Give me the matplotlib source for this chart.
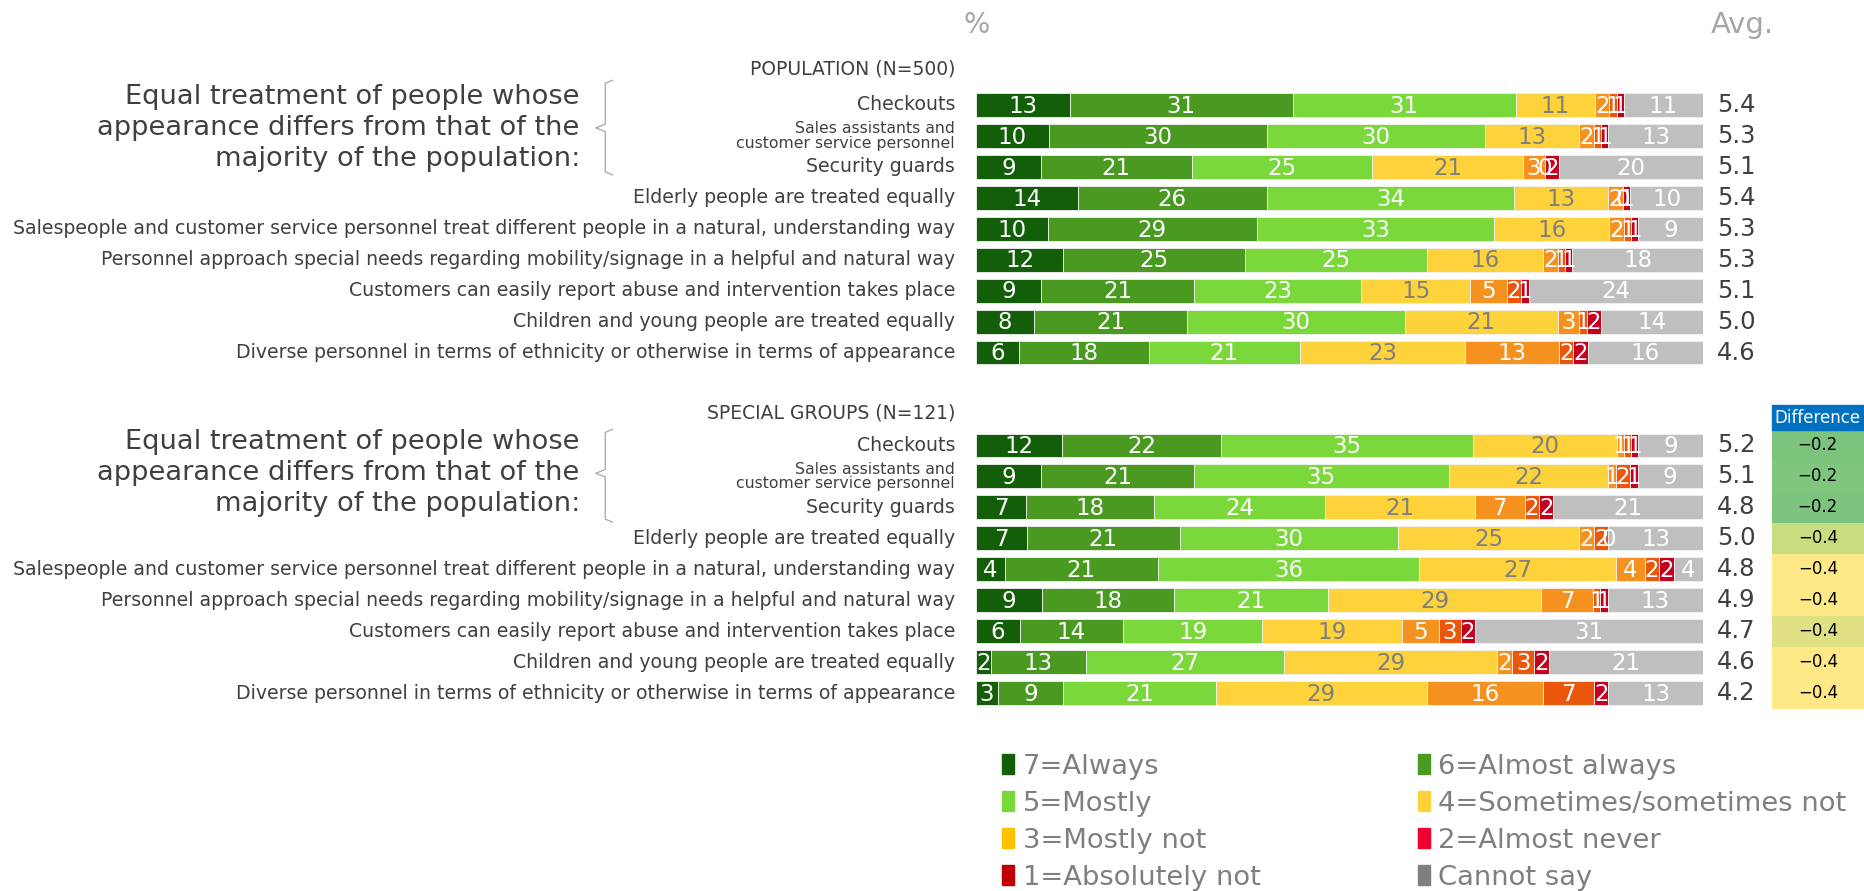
import matplotlib.pyplot as plt
import matplotlib.patches as patches
import numpy as np

# answer scale, order of the stacked segments
categories = ['7=Always', '6=Almost always', '5=Mostly', '4=Sometimes/sometimes not',
              '3=Mostly not', '2=Almost never', '1=Absolutely not', 'Cannot say']
bar_colors = ['#135e08', '#4a9a22', '#7ad83a', '#fed23a', '#f5911f', '#ea560c', '#c4001e', '#bfbfbf']
legend_colors = ['#135e08', '#4a9a22', '#7ad83a', '#fed23a', '#ffc000', '#ee0033', '#c00000', '#7f7f7f']
value_colors = ['white', 'white', 'white', '#7f7f7f', 'white', 'white', 'white', 'white']

statements = ['Checkouts',
              'Sales assistants and\ncustomer service personnel',
              'Security guards',
              'Elderly people are treated equally',
              'Salespeople and customer service personnel treat different people in a natural, understanding way',
              'Personnel approach special needs regarding mobility/signage in a helpful and natural way',
              'Customers can easily report abuse and intervention takes place',
              'Children and young people are treated equally',
              'Diverse personnel in terms of ethnicity or otherwise in terms of appearance']

population = [[13, 31, 31, 11, 2, 1, 1, 11],
              [10, 30, 30, 13, 2, 1, 1, 13],
              [9, 21, 25, 21, 3, 0, 2, 20],
              [14, 26, 34, 13, 2, 0, 1, 10],
              [10, 29, 33, 16, 2, 1, 1, 9],
              [12, 25, 25, 16, 2, 1, 1, 18],
              [9, 21, 23, 15, 5, 2, 1, 24],
              [8, 21, 30, 21, 3, 1, 2, 14],
              [6, 18, 21, 23, 13, 2, 2, 16]]
population_avg = [5.4, 5.3, 5.1, 5.4, 5.3, 5.3, 5.1, 5.0, 4.6]

special = [[12, 22, 35, 20, 1, 1, 1, 9],
           [9, 21, 35, 22, 1, 2, 1, 9],
           [7, 18, 24, 21, 7, 2, 2, 21],
           [7, 21, 30, 25, 2, 2, 0, 13],
           [4, 21, 36, 27, 4, 2, 2, 4],
           [9, 18, 21, 29, 7, 1, 1, 13],
           [6, 14, 19, 19, 5, 3, 2, 31],
           [2, 13, 27, 29, 2, 3, 2, 21],
           [3, 9, 21, 29, 16, 7, 2, 13]]
special_avg = [5.2, 5.1, 4.8, 5.0, 4.8, 4.9, 4.7, 4.6, 4.2]
difference = [-0.2, -0.2, -0.2, -0.4, -0.4, -0.4, -0.4, -0.4, -0.4]
difference_colors = ['#7bc47e', '#80c67e', '#7dc57e', '#c8dc80', '#ffe886',
                     '#ffe886', '#e0e184', '#ffe886', '#ffe886']

group_title = 'Equal treatment of people whose\nappearance differs from that of the\nmajority of the population:'

plt.rcParams['font.family'] = 'DejaVu Sans'
fig = plt.figure(figsize=(18.64, 8.91), dpi=100)
ax = fig.add_axes([976 / 1864, 1 - 708.5 / 891, 727 / 1864, 619 / 891])
ax.set_xlim(0, 100)
ax.set_ylim(19.5, -0.5)
ax.axis('off')

text_grey = '#404040'


def draw_group(rows, offset):
    for i, vals in enumerate(rows):
        vals = np.array(vals, dtype=float)
        widths = vals / vals.sum() * 100
        lefts = np.concatenate([[0], np.cumsum(widths)[:-1]])
        y = i + offset
        ax.barh([y] * len(vals), widths, left=lefts, color=bar_colors, height=0.77,
                edgecolor='#f2f2f2', linewidth=0.6)
        for v, w, l, c in zip(vals, widths, lefts, value_colors):
            ax.text(l + w / 2, y + 0.04, '%d' % v, ha='center', va='center',
                    color=c, fontsize=16.5)
        label = statements[i]
        ax.text(-2.9, y, label, ha='right', va='center', color=text_grey,
                fontsize=11.3 if '\n' in label else 13.6, linespacing=0.95, clip_on=False)


draw_group(population, 0)
draw_group(special, 11)

# averages
for i, a in enumerate(population_avg):
    ax.text(107.2, i, '%.1f' % a, ha='right', va='center', fontsize=17.5, color=text_grey, clip_on=False)
for i, a in enumerate(special_avg):
    ax.text(107.2, i + 11, '%.1f' % a, ha='right', va='center', fontsize=17.5, color=text_grey, clip_on=False)

# difference column
diff_rows = np.arange(len(difference)) + 11
ax.barh(diff_rows, 12.8, left=109.5, height=1.0, color=difference_colors, clip_on=False)
ax.add_patch(patches.Rectangle((109.5, 9.68), 12.8, 0.83, color='#0070c0', clip_on=False))
ax.text(115.8, 10.1, 'Difference', ha='center', va='center', color='white', fontsize=12, clip_on=False)
for y, d in zip(diff_rows, difference):
    ax.text(115.8, y, '\u2212%.1f' % abs(d), ha='center', va='center', color='black', fontsize=12, clip_on=False)

# headers
ax.text(0.1, -2.6, '%', ha='center', va='center', fontsize=20, color='#a6a6a6', clip_on=False)
ax.text(109.8, -2.6, 'Avg.', ha='right', va='center', fontsize=21, color='#a6a6a6', clip_on=False)
ax.text(-2.9, -1.16, 'POPULATION (N=500)', ha='right', va='center', fontsize=13.5, color=text_grey, clip_on=False)
ax.text(-2.9, 9.94, 'SPECIAL GROUPS (N=121)', ha='right', va='center', fontsize=13.5, color=text_grey, clip_on=False)

# group titles with braces
for mid, top, bot in [(0.74, -0.8, 2.26), (11.9, 10.48, 13.48)]:
    ax.text(-54.5, mid, group_title, ha='right', va='center', fontsize=19.6, color=text_grey,
            linespacing=1.25, clip_on=False)
    bx = [-50.0, -51.0, -51.0, -52.3, -51.0, -51.0, -50.0]
    by = [top, top + 0.1, mid - 0.12, mid, mid + 0.12, bot - 0.1, bot]
    ax.plot(bx, by, color='#a6a6a6', lw=0.9, clip_on=False)

# legend: rows (7,6), (5,4), (3,2), (1,cannot say)
order = [0, 2, 4, 6, 1, 3, 5, 7]
handles = [patches.Patch(color=legend_colors[k], label=categories[k]) for k in order]
fig.legend(handles=handles, ncol=2, loc='upper left', bbox_to_anchor=(1002 / 1864, 1 - 754 / 891),
           frameon=False, fontsize=19.7, labelcolor='#7f7f7f', handlelength=0.45, handleheight=0.75,
           handletextpad=0.3, columnspacing=5.75, labelspacing=0.4, borderpad=0, borderaxespad=0)

fig.savefig('out.png', dpi=100)
